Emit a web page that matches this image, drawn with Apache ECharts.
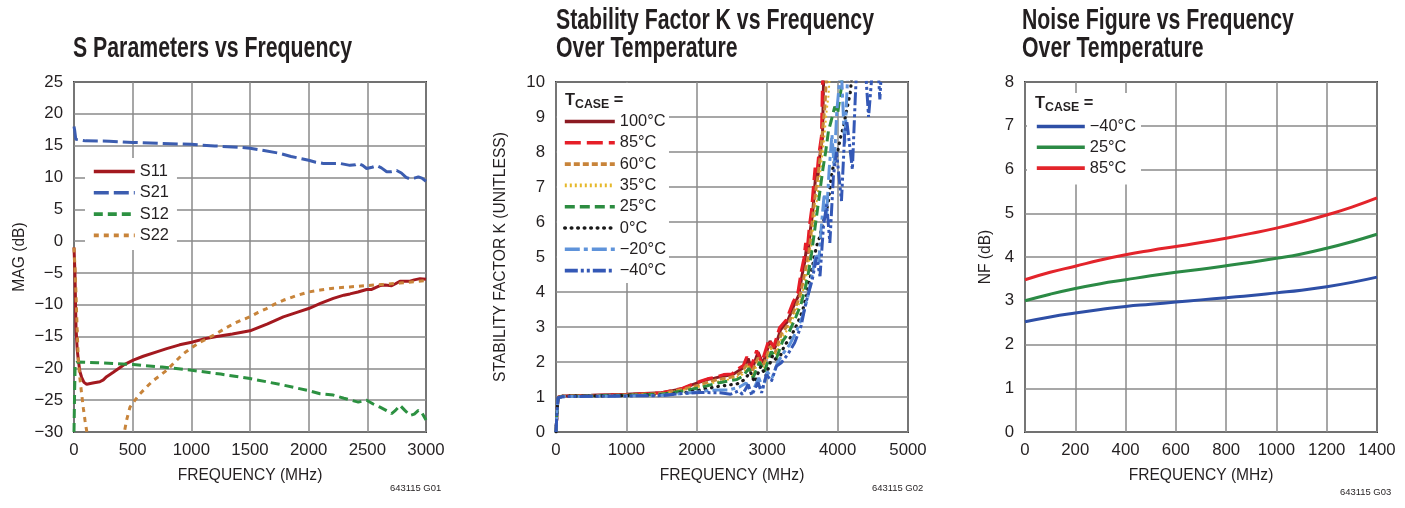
<!DOCTYPE html>
<html><head><meta charset="utf-8">
<script src="https://cdn.jsdelivr.net/npm/echarts@6/dist/echarts.min.js"></script>
<style>html,body{margin:0;padding:0;background:#fff}#c{width:1405px;height:508px}</style>
</head><body><div id="c"></div>
<script>
// ---------- Chart 1: S parameters vs frequency (MHz, dB) ----------
const sTitle = 'S Parameters vs Frequency';
const sXTicks = [0, 500, 1000, 1500, 2000, 2500, 3000];
const sYTicks = [-30, -25, -20, -15, -10, -5, 0, 5, 10, 15, 20, 25];
const sNames = ['S11', 'S21', 'S12', 'S22'];
const s11 = [[0,-1],[8,-5],[17,-13.5],[27,-17],[37,-18.7],[50,-20.5],[65,-21.4],[85,-22.2],[108,-22.5],[160,-22.3],[220,-22.1],[250,-21.8],[278,-21.3],[335,-20.6],[420,-19.5],[505,-18.7],[590,-18.1],[705,-17.4],[790,-16.9],[900,-16.3],[1003,-15.9],[1100,-15.4],[1216,-15.0],[1350,-14.6],[1500,-14.1],[1650,-13.0],[1784,-11.9],[1900,-11.2],[2000,-10.6],[2100,-9.8],[2210,-9.0],[2300,-8.5],[2352,-8.3],[2420,-8.0],[2494,-7.6],[2537,-7.6],[2570,-7.3],[2608,-7.0],[2650,-6.9],[2707,-7.0],[2740,-6.7],[2778,-6.3],[2820,-6.3],[2864,-6.3],[2900,-6.1],[2949,-5.9],[3000,-6.0]];
const s21 = [[0,18],[5,17.5],[15,16],[30,15.8],[100,15.75],[300,15.7],[500,15.5],[750,15.35],[1000,15.2],[1200,14.95],[1400,14.75],[1500,14.6],[1600,14.3],[1750,13.8],[1850,13.3],[1950,12.9],[2000,12.7],[2060,12.4],[2125,12.2],[2200,12.2],[2267,12.2],[2352,11.9],[2400,12.0],[2423,12.2],[2460,11.9],[2494,11.4],[2540,11.6],[2580,11.85],[2620,11.5],[2665,10.9],[2700,10.9],[2750,11.1],[2790,10.7],[2830,10.0],[2860,9.8],[2900,9.9],[2935,10.1],[2965,9.9],[3000,9.4]];
const s12 = [[0,-30],[5,-24],[10,-19.2],[30,-19],[200,-19.1],[505,-19.4],[750,-19.8],[1003,-20.3],[1250,-20.9],[1500,-21.6],[1750,-22.5],[2000,-23.5],[2097,-24],[2210,-24.2],[2300,-24.7],[2423,-25.3],[2494,-25.0],[2550,-25.6],[2608,-26.1],[2660,-26.6],[2707,-27.1],[2740,-26.6],[2778,-25.8],[2820,-26.6],[2864,-27.4],[2900,-27.2],[2935,-26.6],[2965,-27.0],[3000,-28.1]];
const s22 = [[0,-1],[8,-4],[17,-8.3],[27,-14],[37,-18.7],[50,-21.5],[65,-24],[80,-26.3],[94,-28.2],[114,-30.5],[150,-35],[200,-40],[270,-44],[340,-40],[390,-34],[426,-30.3],[450,-28],[477,-26.1],[520,-25],[562,-24],[620,-22.9],[676,-21.9],[735,-21.1],[790,-20.3],[860,-19],[932,-17.7],[1000,-16.8],[1074,-15.9],[1150,-15.2],[1216,-14.5],[1290,-13.7],[1358,-13.0],[1430,-12.4],[1500,-11.9],[1570,-11.2],[1642,-10.6],[1710,-9.9],[1784,-9.3],[1890,-8.6],[2000,-8.0],[2100,-7.7],[2210,-7.4],[2350,-7.2],[2494,-7.0],[2640,-6.8],[2778,-6.6],[2900,-6.4],[3000,-6.2]];

// ---------- Chart 2: Stability factor K vs frequency over temperature ----------
const kTitle = 'Stability Factor K vs Frequency\nOver Temperature';
const kXTicks = [0, 1000, 2000, 3000, 4000, 5000];
const kYTicks = [0, 1, 2, 3, 4, 5, 6, 7, 8, 9, 10];
const kNames = ['100°C', '85°C', '60°C', '35°C', '25°C', '0°C', '\u221220°C', '\u221240°C'];
const k100 = [[0,0],[15,0.6],[30,1.0],[100,1.03],[500,1.05],[1000,1.08],[1500,1.12],[1800,1.24],[1950,1.36],[2050,1.43],[2150,1.5],[2250,1.54],[2380,1.6],[2500,1.63],[2600,1.76],[2680,1.86],[2730,2.1],[2780,1.76],[2870,2.28],[2940,1.95],[3040,2.6],[3105,2.38],[3190,2.92],[3285,3.15],[3380,3.62],[3450,3.92],[3495,4.48],[3535,4.88],[3560,5.3],[3580,5.1],[3615,5.8],[3645,6.25],[3675,7.0],[3695,7.45],[3720,7.3],[3745,7.85],[3785,8.4],[3805,10.5]];
const k85 = [[0,0],[15,0.6],[30,0.99],[100,1.02],[500,1.04],[1000,1.07],[1500,1.12],[1800,1.25],[1950,1.38],[2050,1.45],[2150,1.52],[2250,1.56],[2380,1.64],[2500,1.66],[2580,1.8],[2660,1.9],[2710,2.15],[2760,1.8],[2850,2.33],[2920,1.98],[3025,2.65],[3090,2.42],[3175,2.98],[3270,3.2],[3365,3.7],[3435,3.98],[3480,4.55],[3520,4.95],[3545,5.4],[3565,5.15],[3600,5.9],[3630,6.35],[3660,7.1],[3680,7.55],[3705,7.35],[3730,7.9],[3770,8.45],[3790,10.5]];
const k60 = [[0,0],[15,0.6],[30,0.98],[100,1.02],[500,1.03],[1000,1.06],[1500,1.1],[1800,1.22],[2000,1.32],[2150,1.42],[2300,1.5],[2450,1.55],[2550,1.6],[2640,1.72],[2720,1.95],[2780,1.7],[2870,2.12],[2940,1.85],[3040,2.45],[3110,2.25],[3200,2.8],[3290,3.05],[3390,3.5],[3460,3.85],[3510,4.3],[3560,4.8],[3590,5.1],[3620,5.6],[3650,6.2],[3690,6.9],[3720,7.3],[3750,7.8],[3790,8.7],[3820,9.3],[3850,10.5]];
const k35 = [[0,0],[15,0.6],[30,0.98],[100,1.02],[500,1.03],[1000,1.05],[1500,1.09],[1800,1.2],[2000,1.28],[2150,1.36],[2300,1.44],[2450,1.5],[2560,1.55],[2650,1.65],[2730,1.88],[2790,1.6],[2880,2.05],[2950,1.8],[3050,2.38],[3120,2.18],[3210,2.7],[3300,2.95],[3400,3.4],[3470,3.75],[3530,4.2],[3580,4.7],[3620,5.2],[3650,5.8],[3690,6.4],[3730,7.0],[3770,7.7],[3810,8.4],[3840,9.1],[3870,9.6],[3900,10.5]];
const k25 = [[0,0],[15,0.6],[30,0.98],[100,1.02],[500,1.03],[1000,1.05],[1500,1.08],[1800,1.17],[2000,1.25],[2150,1.32],[2300,1.4],[2450,1.46],[2570,1.5],[2660,1.6],[2740,1.82],[2800,1.55],[2890,2.0],[2960,1.72],[3060,2.3],[3130,2.1],[3220,2.6],[3310,2.85],[3410,3.3],[3480,3.65],[3540,4.1],[3590,4.6],[3630,5.1],[3670,5.7],[3710,6.3],[3750,6.9],[3790,7.5],[3830,8.0],[3870,8.6],[3910,8.9],[3960,9.3],[4000,9.1],[4050,9.8],[4080,10.5]];
const k0 = [[0,0],[15,0.6],[30,0.98],[100,1.02],[500,1.03],[1000,1.04],[1500,1.06],[1800,1.12],[2000,1.18],[2150,1.24],[2300,1.3],[2450,1.34],[2580,1.38],[2680,1.5],[2760,1.72],[2820,1.42],[2910,1.88],[2980,1.6],[3080,2.2],[3150,1.98],[3240,2.45],[3330,2.7],[3430,3.1],[3500,3.45],[3560,3.9],[3610,4.4],[3660,4.9],[3700,5.3],[3750,5.6],[3790,6.0],[3830,6.2],[3870,6.6],[3910,7.3],[3950,7.7],[4000,8.0],[4040,8.4],[4080,8.7],[4130,9.2],[4180,9.7],[4220,10.5]];
const km20 = [[0,0],[15,0.6],[30,0.98],[100,1.01],[500,1.02],[1000,1.03],[1500,1.05],[1800,1.1],[2000,1.14],[2150,1.18],[2300,1.2],[2450,1.2],[2600,1.28],[2700,1.4],[2780,1.1],[2880,1.55],[2940,1.25],[3000,1.72],[3070,1.55],[3150,2.0],[3230,2.25],[3320,2.5],[3420,2.9],[3500,3.3],[3570,3.8],[3620,4.3],[3670,4.85],[3700,5.1],[3730,4.8],[3770,5.9],[3810,6.8],[3840,6.1],[3880,7.5],[3920,8.5],[3950,7.6],[3990,9.2],[4050,10.5],[4100,8.2],[4150,10.5]];
const km40 = [[0,0],[15,0.6],[30,0.98],[100,1.01],[500,1.02],[1000,1.03],[1500,1.04],[1800,1.1],[2050,1.13],[2330,1.12],[2480,1.08],[2590,1.17],[2650,1.08],[2730,1.36],[2780,1.05],[2870,1.42],[2920,1.12],[2990,1.64],[3060,1.45],[3130,1.88],[3200,1.98],[3290,2.21],[3390,2.55],[3480,3.02],[3550,3.69],[3640,4.35],[3700,5.0],[3750,4.45],[3800,5.9],[3845,6.5],[3890,5.4],[3940,7.3],[3985,8.0],[4055,6.6],[4100,8.5],[4130,8.9],[4210,7.5],[4250,9.5],[4280,10.8],[4360,11.5],[4440,9.0],[4500,10.5],[4560,11],[4600,9.5],[4630,10.6]];

// ---------- Chart 3: Noise figure vs frequency over temperature ----------
const nTitle = 'Noise Figure vs Frequency\nOver Temperature';
const nXTicks = [0, 200, 400, 600, 800, 1000, 1200, 1400];
const nYTicks = [0, 1, 2, 3, 4, 5, 6, 7, 8];
const nNames = ['\u221240°C', '25°C', '85°C'];
const nFreq = [0, 100, 200, 300, 400, 500, 600, 700, 800, 900, 1000, 1100, 1200, 1300, 1400];
const nfM40 = [2.52, 2.63, 2.72, 2.80, 2.87, 2.92, 2.97, 3.02, 3.07, 3.12, 3.18, 3.24, 3.32, 3.42, 3.54];
const nf25 = [3.0, 3.15, 3.28, 3.39, 3.48, 3.57, 3.65, 3.72, 3.80, 3.88, 3.97, 4.07, 4.20, 4.35, 4.52];
const nf85 = [3.48, 3.65, 3.79, 3.93, 4.05, 4.15, 4.24, 4.33, 4.43, 4.54, 4.66, 4.80, 4.96, 5.14, 5.35];

const notes = ['643115 G01', '643115 G02', '643115 G03'];

// ---------- rendering ----------
function hasFont(name) {
  const c = document.createElement('canvas').getContext('2d');
  const s = 'abcdefghijklmnopqrstuvwxyzABCDEFGHIJ0123456789';
  c.font = '40px monospace'; const a = c.measureText(s).width;
  c.font = '40px "' + name + '", monospace'; const b = c.measureText(s).width;
  return a !== b;
}
const narrow = hasFont('Liberation Sans Narrow');
const FF = narrow ? '"Liberation Sans Narrow", "Liberation Sans", sans-serif' : '"Liberation Sans", Arial, sans-serif';
const k = narrow ? 1 : 0.82;
const TICK = Math.round(20.5 * k * 10) / 10, NAME = Math.round(19 * k * 10) / 10, LEG = Math.round(20 * k * 10) / 10;
const TXT = '#231f20';

function measure(text, font) {
  const c = document.createElement('canvas').getContext('2d');
  c.font = font; return c.measureText(text).width;
}
const titleFont = 'bold 30px ' + FF;
const titleScale = 318 / measure('Stability Factor K vs Frequency', titleFont);

const minus = v => (v < 0 ? '\u2212' + Math.abs(v) : String(v));
const grids = [
  { left: 74, top: 82, width: 352, height: 350 },
  { left: 556, top: 82, width: 352, height: 350 },
  { left: 1025, top: 82, width: 352, height: 350 }
].map(g => Object.assign(g, { show: true, borderColor: '#2a2a2a', borderWidth: 1.8, backgroundColor: 'transparent' }));

function xAx(i, ticks) {
  return {
    type: 'value', gridIndex: i, min: ticks[0], max: ticks[ticks.length - 1], interval: ticks[1] - ticks[0],
    name: 'FREQUENCY (MHz)', nameLocation: 'middle', nameGap: 36,
    nameTextStyle: { fontFamily: FF, fontSize: NAME, color: TXT },
    axisLine: { show: false }, axisTick: { show: false },
    axisLabel: { fontFamily: FF, fontSize: TICK, color: TXT, margin: 10, formatter: minus },
    splitLine: { show: true, lineStyle: { color: '#8a8a8a', width: 1.5 } }
  };
}
function yAx(i, ticks, name, gap) {
  return {
    type: 'value', gridIndex: i, min: ticks[0], max: ticks[ticks.length - 1], interval: ticks[1] - ticks[0],
    name: name, nameLocation: 'middle', nameGap: gap,
    nameTextStyle: { fontFamily: FF, fontSize: NAME, color: TXT },
    axisLine: { show: false }, axisTick: { show: false },
    axisLabel: { fontFamily: FF, fontSize: TICK, color: TXT, margin: 11, formatter: minus },
    splitLine: { show: true, lineStyle: { color: '#8a8a8a', width: 1.5 } }
  };
}
function line(name, data, gi, color, type, width, extra) {
  return Object.assign({
    type: 'line', name: name, data: data, xAxisIndex: gi, yAxisIndex: gi,
    symbol: 'none', clip: true, animation: false,
    lineStyle: { color: color, width: width || 2.8, type: type || 'solid' },
    itemStyle: { color: color }
  }, extra || {});
}
// series names are prefixed per panel so identical temperature labels stay distinct
const NF_PREFIX = 'NF ';
function legendBox(data, left, top, padding, itemWidth, gap) {
  return {
    data: data, orient: 'vertical', left: left, top: top, padding: padding,
    backgroundColor: '#ffffff', itemWidth: itemWidth, itemHeight: 12, itemGap: gap,
    selectedMode: false, z: 5,
    formatter: n => n.replace(NF_PREFIX, ''),
    lineStyle: { width: 3.6 },
    itemStyle: { color: 'rgba(0,0,0,0)', borderWidth: 0, borderColor: 'rgba(0,0,0,0)', opacity: 0 },
    textStyle: { fontFamily: FF, fontSize: LEG, color: TXT, lineHeight: 19, padding: [0, 0, 0, 0] }
  };
}
const nfSeriesNames = nNames.map(n => NF_PREFIX + n);

const series = [
  line(sNames[0], s11, 0, '#a3191f', 'solid', 3),
  line(sNames[1], s21, 0, '#3c5db0', [15, 5], 3),
  line(sNames[2], s12, 0, '#2c9141', [9, 5], 3),
  line(sNames[3], s22, 0, '#c8843a', [5, 5], 3),

  line(kNames[0], k100, 1, '#8c1a22', 'solid', 3),
  line(kNames[1], k85, 1, '#e61e28', [16, 6], 3),
  line(kNames[2], k60, 1, '#c8843a', [6, 3], 3),
  line(kNames[3], k35, 1, '#e5b82a', [2, 3], 2),
  line(kNames[4], k25, 1, '#2c8c40', [10, 5], 3),
  line(kNames[5], k0, 1, '#1a1a1a', [0.5, 6], 3.2),
  line(kNames[6], km20, 1, '#5f93da', [15, 4, 4, 4], 3),
  line(kNames[7], km40, 1, '#3458b6', [13, 3, 3, 3, 3, 3], 3),

  line(nfSeriesNames[0], nFreq.map((f, i) => [f, nfM40[i]]), 2, '#2e4fa6', 'solid', 3, { smooth: true }),
  line(nfSeriesNames[1], nFreq.map((f, i) => [f, nf25[i]]), 2, '#2b8a45', 'solid', 3, { smooth: true }),
  line(nfSeriesNames[2], nFreq.map((f, i) => [f, nf85[i]]), 2, '#e3242b', 'solid', 3, { smooth: true })
];
series[9].lineStyle.cap = 'round';

const headerRich = {
  t: { fontFamily: FF, fontSize: 20 * k, fontWeight: 'bold', fill: TXT, lineHeight: 22 },
  s: { fontFamily: FF, fontSize: 15 * k, fontWeight: 'bold', fill: TXT, lineHeight: 10, verticalAlign: 'bottom' }
};
function titleText(x, y, text) {
  return { type: 'text', x: x, y: y, z: 100, scaleX: titleScale, scaleY: 1,
    style: { text: text, font: titleFont, fill: TXT, verticalAlign: 'middle', lineHeight: 28 } };
}
function noteText(x, y, text) {
  return { type: 'text', x: x, y: y, z: 100,
    style: { text: text, fontFamily: FF, fontSize: 11.5 * k, fill: TXT, verticalAlign: 'middle' } };
}

const option = {
  animation: false,
  backgroundColor: '#ffffff',
  grid: grids,
  xAxis: [xAx(0, sXTicks), xAx(1, kXTicks), xAx(2, nXTicks)],
  yAxis: [yAx(0, sYTicks, 'MAG (dB)', 46), yAx(1, kYTicks, 'STABILITY FACTOR K (UNITLESS)', 47), yAx(2, nYTicks, 'NF (dB)', 31)],
  legend: [
    legendBox(sNames, 85, 158, [4, 8, 5, 7], 41, 2.3),
    legendBox(kNames, 557, 83, [29, 3, 3, 6], 50, 2.3),
    legendBox(nfSeriesNames, 1027, 93, [24, 5, 7, 8], 48, 1.8)
  ],
  series: series,
  graphic: [
    titleText(73, 49, sTitle),
    titleText(556, 35, kTitle),
    titleText(1022, 35, nTitle),
    { type: 'text', x: 565, y: 100, z: 100, style: { text: '{t|T}{s|CASE}{t| =}', rich: headerRich, verticalAlign: 'middle' } },
    { type: 'text', x: 1035, y: 103, z: 100, style: { text: '{t|T}{s|CASE}{t| =}', rich: headerRich, verticalAlign: 'middle' } },
    noteText(390, 488, notes[0]),
    noteText(872, 488, notes[1]),
    noteText(1340, 492, notes[2])
  ]
};
const chart = echarts.init(document.getElementById('c'), null, { renderer: 'canvas' });
chart.setOption(option);
</script></body></html>
